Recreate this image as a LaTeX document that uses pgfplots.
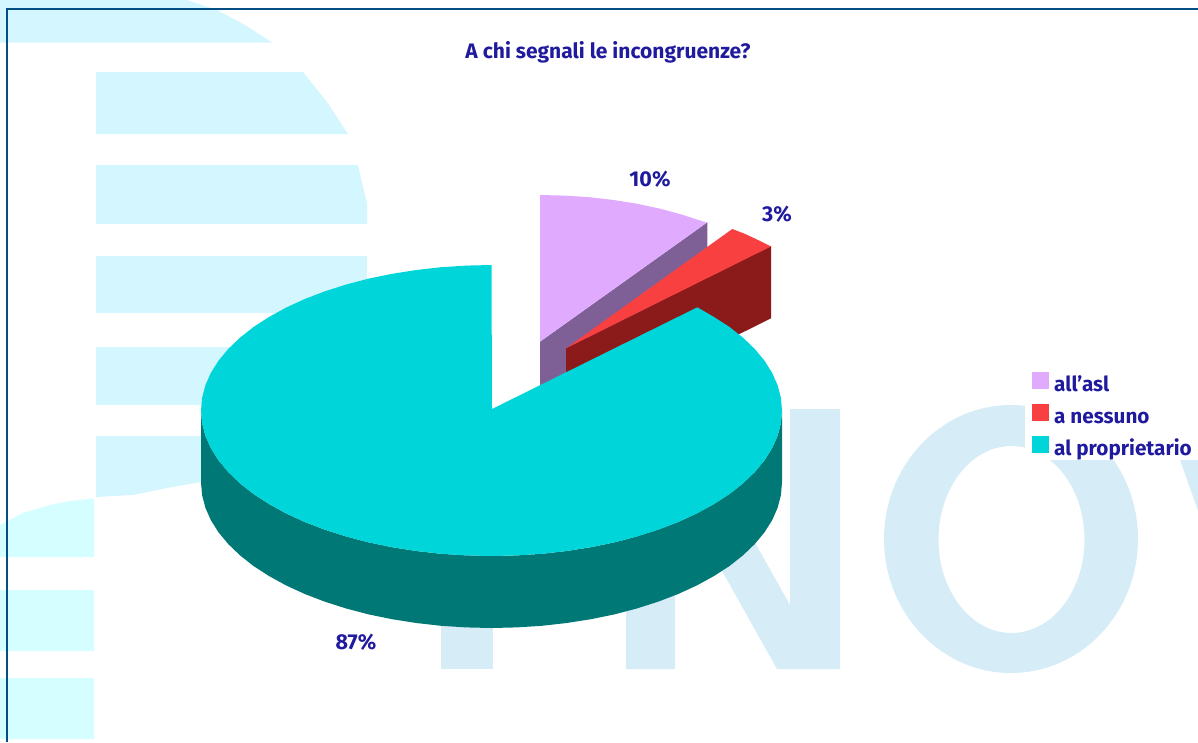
\documentclass[border=0pt]{standalone}
\usepackage{fontspec}
\setmainfont{Fira Sans}
\usepackage{pgfplots}
\pgfplotsset{compat=1.18}
\definecolor{wa}{HTML}{D4F6FE}
\definecolor{wb}{HTML}{D4FEFF}
\definecolor{wc}{HTML}{D6ECF7}
\definecolor{txt}{HTML}{1F1A9E}
\definecolor{bord}{HTML}{054E85}
\definecolor{purp}{HTML}{E0ABFF}
\definecolor{purpd}{HTML}{7F6096}
\definecolor{redt}{HTML}{F84040}
\definecolor{redd}{HTML}{8B1A1A}
\definecolor{teal1}{HTML}{00D5DA}
\definecolor{teal2}{HTML}{007876}
\begin{document}
\begin{tikzpicture}
\begin{axis}[
  scale only axis, width=1198pt, height=742pt,
  xmin=0, xmax=1198, ymin=0, ymax=742, y dir=reverse,
  hide axis, clip=true,
  legend style={at={(axis cs:1026,365)}, anchor=north west, draw=none, fill=none,
    inner xsep=6pt, inner ysep=7pt, row sep=9.2pt, font=\fontsize{20.7}{20.7}\selectfont\bfseries\color{txt},
    nodes={text height=14pt, text depth=3pt, inner ysep=0pt, inner xsep=0pt},
    /tikz/column 1/.style={column sep=5pt}},
  legend cell align=left,
  legend image code/.code={\path[#1,draw=none] (0pt,-3pt) rectangle (17pt,14pt);},
  wa/.style={draw=none, fill=wa, forget plot, mark=none},
  wb/.style={draw=none, fill=wb, forget plot, mark=none},
  wc/.style={draw=none, fill=wc, forget plot, mark=none},
  sl/.style={draw=none, fill=#1, mark=none},
  sd/.style={draw=none, fill=#1, mark=none, forget plot},
]
% watermark
\addplot[wa] coordinates {(0,0)(187,0)(217,10)(245,25)(272,42.5)(0,42.5)} --cycle;
\addplot[wa] coordinates {(96,72)(303,72)(327,102)(348,134)(96,134)} --cycle;
\addplot[wa] coordinates {(96,165)(358,165)(363,187)(367,203)(367,224)(96,224)} --cycle;
\addplot[wa] coordinates {(96,256)(367,256)(367,313)(96,313)} --cycle;
\addplot[wa] coordinates {(96,347)(300,347)(300,405)(96,405)} --cycle;
\addplot[wa] coordinates {(96,436)(300,436)(300,470)(201,482)(167,488)(133,495)(96,497)} --cycle;
\addplot[wb] coordinates {(0,525)(23,513)(50,505)(70,501)(94,498.5)(94,557)(0,557)} --cycle;
\addplot[wb] coordinates {(0,590)(94,590)(94,651)(0,651)} --cycle;
\addplot[wb] coordinates {(0,678)(94,678)(94,739)(0,739)} --cycle;
\addplot[wc] coordinates {(441,409)(493,409)(493,669)(441,669)} --cycle;
\addplot[wc] coordinates {(626,669)(626,409)(680,409)(790,605)(790,409)(840,409)(840,669)(777,669)(675,487)(675,669)} --cycle;
\addplot[wc] coordinates {(1162,409)(1260,409)(1320,669)(1254,669)} --cycle;
\fill[wc, even odd rule] (axis cs:1011,539) ellipse [x radius=127, y radius=134]
   (axis cs:1011.5,539.5) ellipse [x radius=73, y radius=93.5];
% legend background
\addplot[draw=none, fill=white, forget plot, mark=none] coordinates {(1025,364)(1198,364)(1198,460)(1025,460)} --cycle;
% frame
\addplot[bord, line width=2pt, forget plot, mark=none] coordinates {(1198,9)(7,9)(7,742)};
% slice all'asl
\addplot[sd=purpd] coordinates {(540,341.7)(707.3,222.3)(707.3,294.3)(540,413.7)} --cycle;
\addplot[sl=purp] coordinates {(540,341.7)(540,195)(564.8,195.6)(589.4,197.2)(613.6,200)(637.2,203.8)(660.2,208.7)(682.2,214.7)(703.1,221.5)(707.3,222.3)} --cycle;
\addlegendentry{all'asl}
% slice a nessuno
\addplot[sd=redd] coordinates {(566,348.3)(771,246)(771,318.3)(566,420.3)} --cycle;
\addplot[sl=redt] coordinates {(566,348.3)(732.3,229)(745,233.9)(758,240)(771,246.4)} --cycle;
\addlegendentry{a nessuno}
% slice al proprietario
\addplot[sd=teal2] coordinates {
(201,410.5)(202.1,423.2)(205.4,435.8)(210.9,448.2)(218.5,460.3)(228.2,472)(239.9,483.25)(253.5,494)(269,504)(286.1,513.4)(304.8,522)(324.9,529.7)(346.25,536.5)(368.7,542.4)(392.1,547.2)(416.3,551)(441.1,553.8)(466.2,555.4)(491.5,556)(516.8,555.4)(541.9,553.8)(566.7,551)(590.9,547.2)(614.3,542.4)(636.75,536.5)(658.1,529.7)(678.2,522)(696.9,513.4)(714,504)(729.5,494)(743.1,483.25)(754.8,472)(764.5,460.3)(772.1,448.2)(777.6,435.8)(780.9,423.2)(782,410.5)
(782,482.5)(780.9,495.2)(777.6,507.8)(772.1,520.2)(764.5,532.3)(754.8,544)(743.1,555.25)(729.5,566)(714,576)(696.9,585.4)(678.2,594)(658.1,601.7)(636.75,608.5)(614.3,614.4)(590.9,619.2)(566.7,623)(541.9,625.8)(516.8,627.4)(491.5,628)(466.2,627.4)(441.1,625.8)(416.3,623)(392.1,619.2)(368.7,614.4)(346.25,608.5)(324.9,601.7)(304.8,594)(286.1,585.4)(269,576)(253.5,566)(239.9,555.25)(228.2,544)(218.5,532.3)(210.9,520.2)(205.4,507.8)(202.1,495.2)(201,482.5)} --cycle;
\addplot[sl=teal1] coordinates {
(492,409)(491.5,265)(466.2,265.6)(441.1,267.2)(416.3,270)(392.1,273.8)(368.7,278.6)(346.25,284.5)(324.9,291.3)(304.8,299)(286.1,307.6)(269,317)(253.5,327)(239.9,337.75)(228.2,349)(218.5,360.7)(210.9,372.8)(205.4,385.2)(202.1,397.8)(201,410.5)
(202.1,423.2)(205.4,435.8)(210.9,448.2)(218.5,460.3)(228.2,472)(239.9,483.25)(253.5,494)(269,504)(286.1,513.4)(304.8,522)(324.9,529.7)(346.25,536.5)(368.7,542.4)(392.1,547.2)(416.3,551)(441.1,553.8)(466.2,555.4)(491.5,556)
(516.8,555.4)(541.9,553.8)(566.7,551)(590.9,547.2)(614.3,542.4)(636.75,536.5)(658.1,529.7)(678.2,522)(696.9,513.4)(714,504)(729.5,494)(743.1,483.25)(754.8,472)(764.5,460.3)(772.1,448.2)(777.6,435.8)(780.9,423.2)(782,410.5)
(780.9,397.8)(777.6,385.2)(772.1,372.8)(764.5,360.7)(754.8,349)(743.1,337.75)(729.5,327)(714,317)(697.3,307.3)} --cycle;
\addlegendentry{al proprietario}
\node[text=txt, font=\fontsize{21}{21}\selectfont\bfseries] at (axis cs:608,52) {A chi segnali le incongruenze?};
\node[text=txt, font=\fontsize{21.5}{21.5}\selectfont\bfseries] at (axis cs:650,179) {10\%};
\node[text=txt, font=\fontsize{21.5}{21.5}\selectfont\bfseries] at (axis cs:777,214) {3\%};
\node[text=txt, font=\fontsize{21.5}{21.5}\selectfont\bfseries] at (axis cs:356,642) {87\%};
\end{axis}
\end{tikzpicture}
\end{document}
